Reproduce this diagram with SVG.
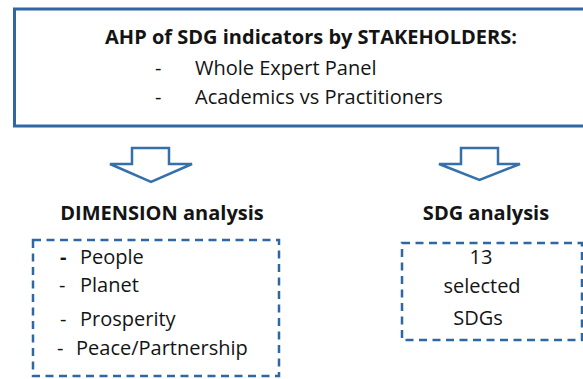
<svg xmlns="http://www.w3.org/2000/svg" width="583" height="379" viewBox="0 0 583 379">
  <style>
    .t { font-family: "Open Sans", "Noto Sans", "Liberation Sans", sans-serif; fill: #141414; font-size: 20px; }
    .b { font-weight: bold; }
    .solid { fill: #ffffff; stroke: #2f67a2; stroke-width: 3; }
    .dash { fill: #ffffff; stroke: #2f67a2; stroke-width: 2.5; stroke-dasharray: 8 5.5; }
    .arrow { fill: #ffffff; stroke: #3570aa; stroke-width: 2.5; stroke-linejoin: miter; }
  </style>
  <rect width="583" height="379" fill="#ffffff"/>

  <!-- stakeholders box (open on the right edge) -->
  <g id="stakeholders">
    <rect class="solid" x="14.5" y="9" width="600" height="117"/>
    <text class="t b" x="311" y="44" text-anchor="middle">AHP of SDG indicators by STAKEHOLDERS:</text>
    <text class="t" x="155" y="75">-</text>
    <text class="t" x="195" y="75">Whole Expert Panel</text>
    <text class="t" x="155" y="104">-</text>
    <text class="t" x="195" y="104">Academics vs Practitioners</text>
  </g>

  <!-- block arrows -->
  <g id="connectors">
    <path class="arrow" d="M132 148 H169 V164 H192 L151 182 L110 164 H132 Z"/>
    <path class="arrow" d="M461 148 H498 V164 H520 L479.5 180 L439 164 H461 Z"/>
  </g>

  <g id="dimension">
    <text class="t b" x="162" y="220" text-anchor="middle">DIMENSION analysis</text>
    <rect class="dash" x="33" y="240" width="246" height="136"/>
    <text class="t b" x="60" y="264">-</text>
    <text class="t" x="80" y="264">People</text>
    <text class="t" x="59" y="292">-</text>
    <text class="t" x="80" y="292">Planet</text>
    <text class="t" x="60" y="326">-</text>
    <text class="t" x="80" y="326">Prosperity</text>
    <text class="t" x="57" y="355">-</text>
    <text class="t" x="76" y="355">Peace/Partnership</text>
  </g>

  <g id="sdg">
    <text class="t b" x="486" y="220" text-anchor="middle">SDG analysis</text>
    <rect class="dash" x="402" y="243" width="180" height="97"/>
    <text class="t" x="481" y="264" text-anchor="middle">13</text>
    <text class="t" x="482" y="293" text-anchor="middle">selected</text>
    <text class="t" x="478" y="325" text-anchor="middle">SDGs</text>
  </g>
</svg>
